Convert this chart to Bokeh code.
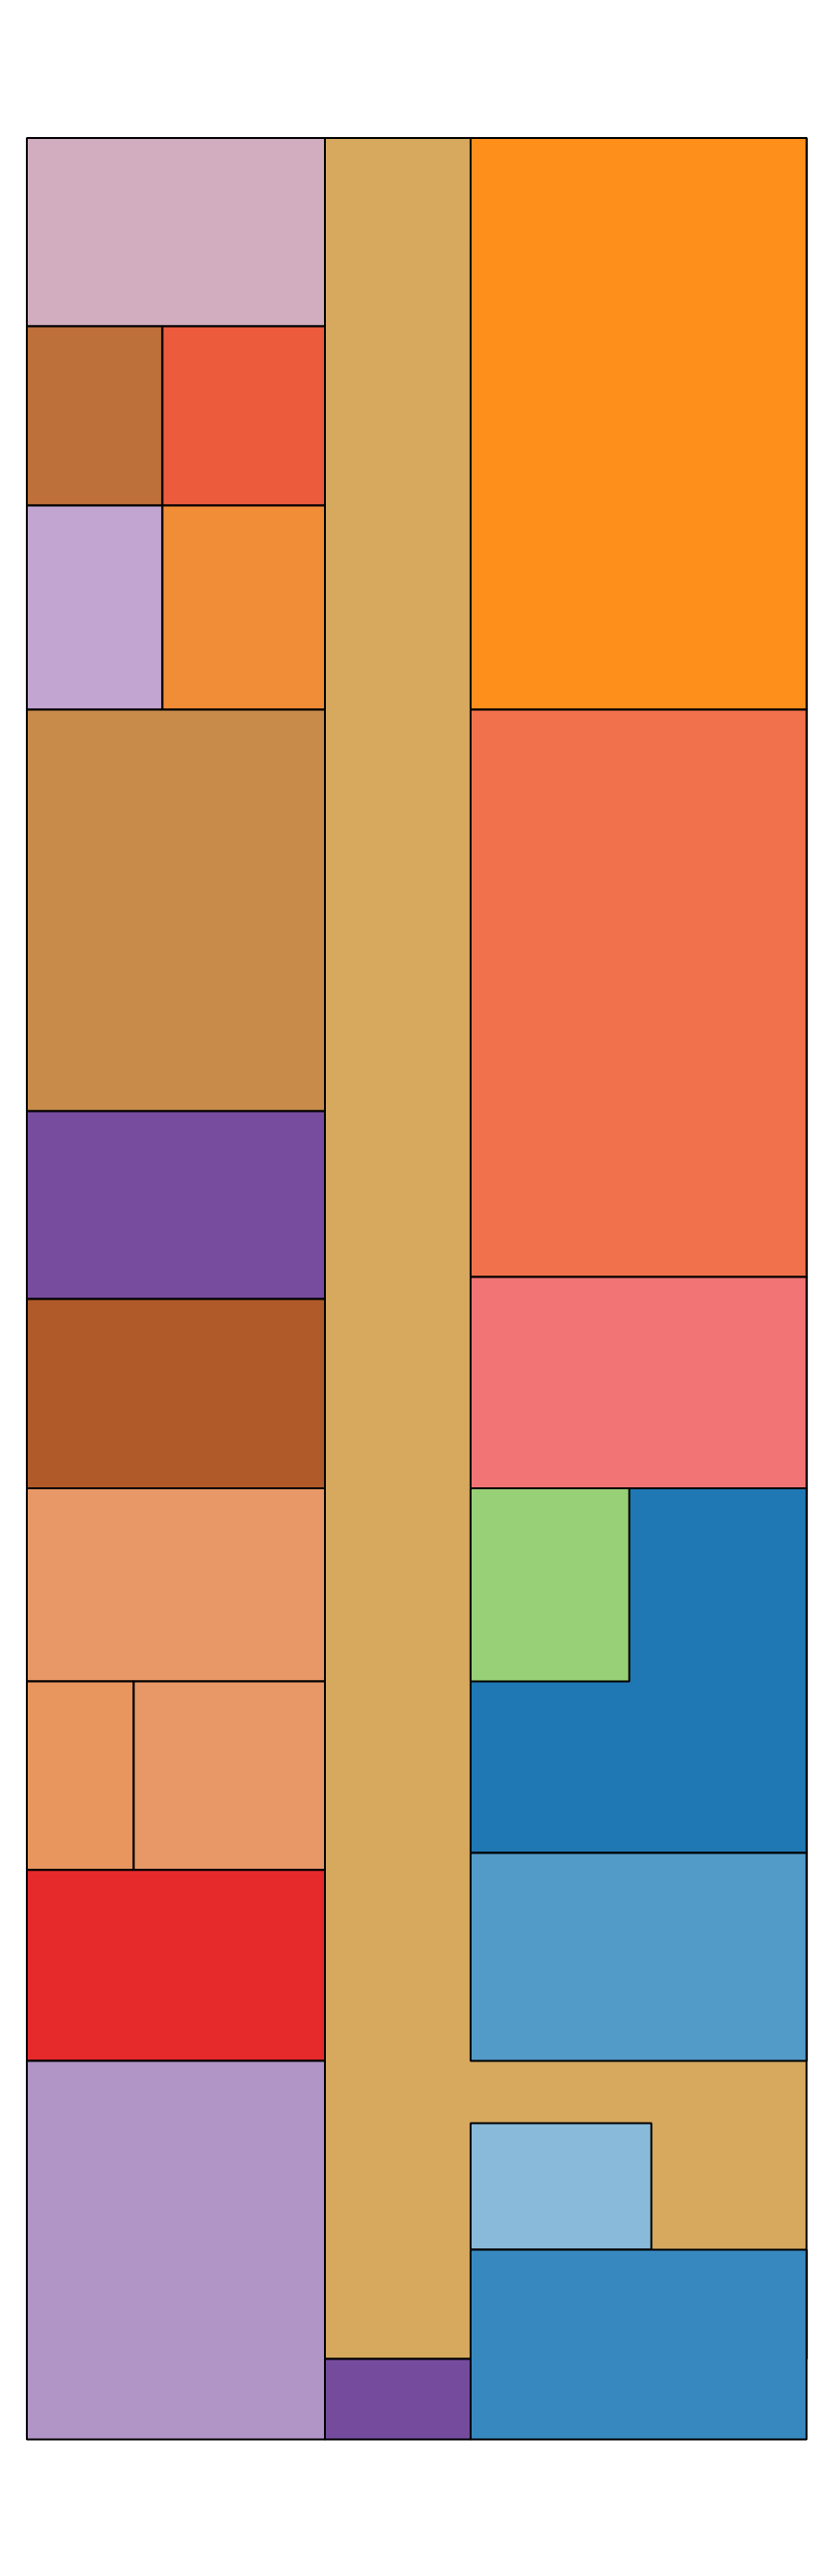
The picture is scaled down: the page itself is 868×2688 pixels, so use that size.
from bokeh.plotting import figure
from bokeh.models import ColumnDataSource, Range1d
from bokeh.embed import file_html
from bokeh.resources import INLINE

# Treemap tiles: bounds in percent of the treemap width (x) and height (y), y measured from top
names = ["group", "a1", "a2", "a3", "a4", "a5", "a6", "a7", "a8", "a9", "a10", "a11", "a12", "a13",
         "b1", "b2", "b3", "b4", "b5", "b6", "b7", "b8", "c1"]
x0 = [38.23, 0.0, 0.0, 17.39, 0.0, 17.39, 0.0, 0.0, 0.0, 0.0, 0.0, 13.71, 0.0, 0.0,
      56.91, 56.91, 56.91, 56.91, 56.91, 56.91, 56.91, 56.91, 38.23]
x1 = [100.0, 38.23, 17.39, 38.23, 17.39, 38.23, 38.23, 38.23, 38.23, 38.23, 13.71, 38.23, 38.23, 38.23,
      100.0, 100.0, 100.0, 100.0, 77.26, 100.0, 80.09, 100.0, 56.91]
y0 = [0.0, 0.0, 8.18, 8.18, 15.97, 15.97, 24.84, 42.29, 50.45, 58.67, 67.06, 67.06, 75.26, 83.55,
      0.0, 24.84, 49.49, 58.67, 58.67, 74.52, 86.26, 91.75, 96.50]
y1 = [96.50, 8.18, 15.97, 15.97, 24.84, 24.84, 42.29, 50.45, 58.67, 67.06, 75.26, 75.26, 83.55, 100.0,
      24.84, 49.49, 58.67, 74.52, 67.06, 83.55, 91.75, 100.0, 100.0]
colors = ["#d6a95f", "#d1adbf", "#bd7039", "#ec5b3c", "#c2a5d1", "#f28d37", "#c88b4a", "#774c9e",
          "#b05a29", "#e89867", "#e9965e", "#e89867", "#e6292b", "#b295c7",
          "#ff8f1b", "#f0714b", "#f27474", "#1f78b4", "#97d077", "#529ac7", "#8abad9", "#3788be",
          "#754b9e"]

src = ColumnDataSource(dict(name=names, left=x0, right=x1, top=y0, bottom=y1, color=colors))

# page pixel geometry of treemap and frame
TX0, TX1, TY0, TY1 = 27.5, 841.0, 143.5, 2545.0
FL, FR, FT, FB = 22, 846, 138, 2550
W, H = 852, 2600
sx = (TX1 - TX0) / 100.0
sy = (TY1 - TY0) / 100.0

p = figure(width=W, height=H, output_backend="svg", toolbar_location=None,
           x_axis_location=None, y_axis_location=None,
           x_range=Range1d(-(TX0 - FL) / sx, 100 + (FR - TX1) / sx),
           y_range=Range1d(100 + (FB - TY1) / sy, -(TY0 - FT) / sy),
           min_border_left=FL, min_border_right=W - FR,
           min_border_top=FT, min_border_bottom=H - FB)
p.grid.visible = False
p.outline_line_color = None
p.background_fill_color = "white"
p.border_fill_color = "white"

p.quad(left="left", right="right", top="top", bottom="bottom", source=src,
       fill_color="color", line_color="black", line_width=2)

open("out.html", "w").write(file_html(p, INLINE))
